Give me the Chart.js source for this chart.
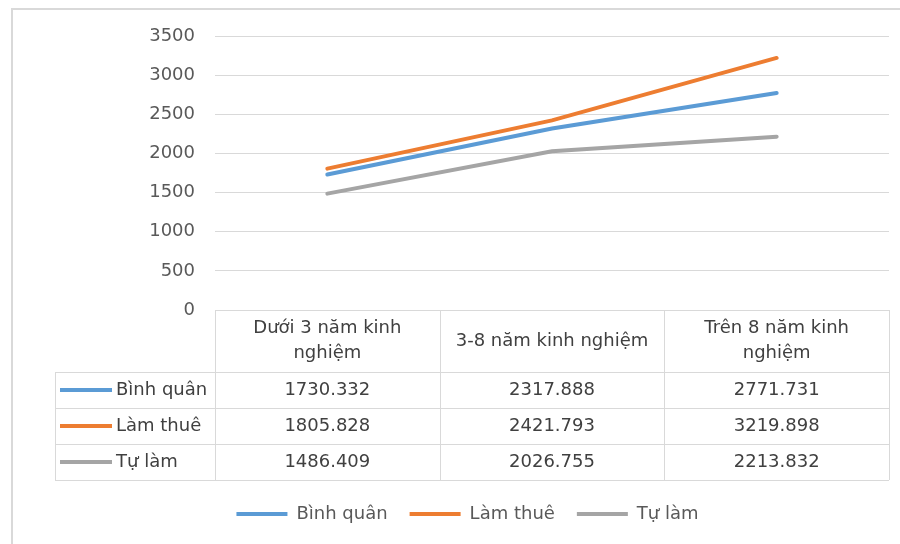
<!DOCTYPE html>
<html>
<head>
<meta charset="utf-8">
<script src="https://cdn.jsdelivr.net/npm/chart.js@4.4.1/dist/chart.umd.min.js"></script>
<style>
  html, body { margin: 0; padding: 0; background: #fff; overflow: hidden; }
  canvas { display: block; }
</style>
</head>
<body>
<canvas id="chart" width="900" height="544"></canvas>
<script>
// data
var categories = [['Dưới 3 năm kinh', 'nghiệm'], ['3-8 năm kinh nghiệm'], ['Trên 8 năm kinh', 'nghiệm']];
var seriesNames = ['Bình quân', 'Làm thuê', 'Tự làm'];
var binhQuan = [1730.332, 2317.888, 2771.731];
var lamThue = [1805.828, 2421.793, 3219.898];
var tuLam = [1486.409, 2026.755, 2213.832];
var yTicks = [0, 500, 1000, 1500, 2000, 2500, 3000, 3500];
var seriesColors = ['#5B9BD5', '#ED7D31', '#A5A5A5'];

var FONT = '"DejaVu Sans", sans-serif';
var GRID = '#d9d9d9';

// outer frame of the chart object (only left and top edges show)
var frame = {
    id: 'frame',
    beforeDraw: function (chart) {
        var ctx = chart.ctx;
        ctx.save();
        ctx.fillStyle = '#d9d9d9';
        ctx.fillRect(11, 8, 2, 544);
        ctx.fillRect(11, 8, 889, 2);
        ctx.restore();
    }
};

// data table under the plot, columns follow the x scale
var dataTable = {
    id: 'dataTable',
    afterDraw: function (chart) {
        var ctx = chart.ctx;
        var xs = chart.scales.x;
        var area = chart.chartArea;
        var colW = (area.right - area.left) / categories.length;
        var top = area.bottom;
        var headH = 62, rowH = 36, keyLeft = 55;
        var bottom = top + headH + rowH * seriesNames.length;
        var allValues = [binhQuan, lamThue, tuLam];

        ctx.save();
        ctx.strokeStyle = GRID;
        ctx.lineWidth = 1;
        ctx.beginPath();
        // header top
        ctx.moveTo(area.left, Math.round(top) + 0.5);
        ctx.lineTo(area.right, Math.round(top) + 0.5);
        // row lines
        for (var r = 0; r <= seriesNames.length; r++) {
            var y = Math.round(top + headH + r * rowH) + 0.5;
            ctx.moveTo(keyLeft, y);
            ctx.lineTo(area.right, y);
        }
        // column lines
        for (var c = 0; c <= categories.length; c++) {
            var x = Math.round(area.left + c * colW) + 0.5;
            ctx.moveTo(x, top);
            ctx.lineTo(x, bottom);
        }
        ctx.moveTo(keyLeft + 0.5, top + headH);
        ctx.lineTo(keyLeft + 0.5, bottom);
        ctx.stroke();

        ctx.font = '18px ' + FONT;
        ctx.textAlign = 'center';
        ctx.textBaseline = 'middle';
        ctx.fillStyle = '#404040';

        // header
        categories.forEach(function (lines, i) {
            var cx = xs.getPixelForValue(i);
            var lh = 25;
            var y0 = top + 31 - (lines.length - 1) * lh / 2;
            lines.forEach(function (t, k) {
                ctx.fillText(t, cx, y0 + k * lh);
            });
        });

        // rows
        seriesNames.forEach(function (name, r) {
            var cy = top + headH + r * rowH + rowH / 2;
            ctx.fillStyle = seriesColors[r];
            ctx.fillRect(60, cy - 2, 52, 4);
            ctx.fillStyle = '#404040';
            ctx.textAlign = 'left';
            ctx.fillText(name, 116, cy);
            ctx.textAlign = 'center';
            allValues[r].forEach(function (v, i) {
                ctx.fillText(v.toFixed(3), xs.getPixelForValue(i), cy);
            });
        });
        ctx.restore();
    }
};

var ctx = document.getElementById('chart').getContext('2d');
var myChart = new Chart(ctx, {
    type: 'line',
    data: {
        labels: categories,
        datasets: [
            { label: seriesNames[0], data: binhQuan, borderColor: seriesColors[0], backgroundColor: seriesColors[0] },
            { label: seriesNames[1], data: lamThue, borderColor: seriesColors[1], backgroundColor: seriesColors[1] },
            { label: seriesNames[2], data: tuLam, borderColor: seriesColors[2], backgroundColor: seriesColors[2] }
        ]
    },
    options: {
        responsive: false,
        animation: false,
        elements: {
            line: { borderWidth: 4, tension: 0, borderCapStyle: 'round' },
            point: { radius: 0 }
        },
        layout: { padding: { top: 36, right: 11, left: 46, bottom: 11 } },
        scales: {
            x: {
                offset: true,
                grid: { display: false },
                border: { display: false },
                ticks: { display: false },
                afterFit: function (scale) { scale.height = 173; }
            },
            y: {
                min: 0,
                max: 3500,
                grid: { color: GRID, lineWidth: 1, drawTicks: false },
                border: { display: false },
                ticks: {
                    padding: 20,
                    color: '#595959',
                    font: { family: FONT, size: 18 },
                    callback: function (v) { return String(v); }
                },
                afterBuildTicks: function (axis) {
                    axis.ticks = yTicks.map(function (v) { return { value: v }; });
                },
                afterFit: function (scale) { scale.width = 169; }
            }
        },
        plugins: {
            tooltip: { enabled: false },
            legend: {
                position: 'bottom',
                labels: {
                    boxWidth: 51,
                    boxHeight: 4,
                    padding: 22,
                    color: '#595959',
                    font: { family: FONT, size: 18 },
                    generateLabels: function (chart) {
                        var items = Chart.defaults.plugins.legend.labels.generateLabels(chart);
                        items.forEach(function (it) {
                            it.lineWidth = 0;
                            it.fillStyle = it.strokeStyle;
                        });
                        return items;
                    }
                }
            }
        }
    },
    plugins: [frame, dataTable]
});
</script>
</body>
</html>
